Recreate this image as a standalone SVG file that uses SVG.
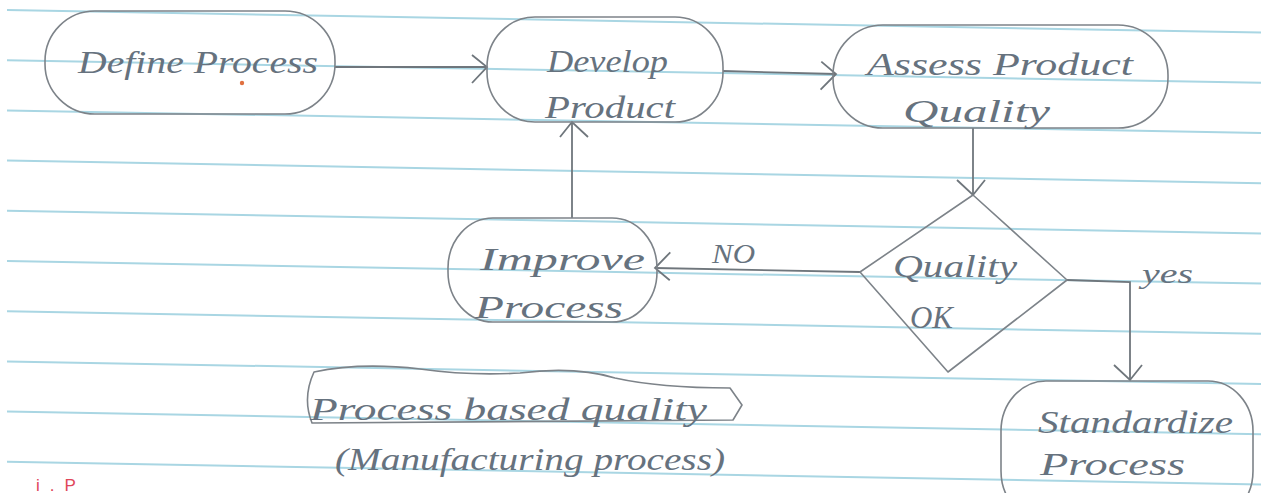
<svg xmlns="http://www.w3.org/2000/svg" width="1261" height="493" viewBox="0 0 1261 493">
<style>
.rule{stroke:#a9d6e3;stroke-width:2;fill:none}
.shape{fill:none;stroke:#7d8389;stroke-width:1.6;stroke-linejoin:round}
.conn{fill:none;stroke:#6f767c;stroke-width:1.8}
.t{font-family:"Liberation Serif",serif;font-style:italic;font-size:32px;fill:#66727e}
.lbl{font-family:"Liberation Serif",serif;font-style:italic;font-size:28px;fill:#66727e}
.red{font-family:"Liberation Sans",sans-serif;font-size:17px;fill:#e0465a}
</style>
<defs>
<marker id="chev" viewBox="-18 -16 20 34" markerWidth="20" markerHeight="34" refX="0" refY="0" orient="auto" markerUnits="userSpaceOnUse">
<path d="M-15,-12 L0,0 L-15,16" fill="none" stroke="#6f767c" stroke-width="1.8"/>
</marker>
</defs>
<rect width="1261" height="493" fill="#ffffff"/>
<g id="paper">
<line class="rule" x1="7" y1="10" x2="1261" y2="32.6"/>
<line class="rule" x1="7" y1="60.2" x2="1261" y2="82.8"/>
<line class="rule" x1="7" y1="110.4" x2="1261" y2="133"/>
<line class="rule" x1="7" y1="160.6" x2="1261" y2="183.2"/>
<line class="rule" x1="7" y1="210.8" x2="1261" y2="233.4"/>
<line class="rule" x1="7" y1="261" x2="1261" y2="283.6"/>
<line class="rule" x1="7" y1="311.2" x2="1261" y2="333.8"/>
<line class="rule" x1="7" y1="361.4" x2="1261" y2="384"/>
<line class="rule" x1="7" y1="411.6" x2="1261" y2="434.2"/>
<line class="rule" x1="7" y1="461.8" x2="1261" y2="484.4"/>
</g>
<g id="connectors">
<path class="conn" d="M335,67 L487,67" marker-end="url(#chev)"/>
<path class="conn" d="M723,71 L836,74" marker-end="url(#chev)"/>
<path class="conn" d="M973,128 L973,195" marker-end="url(#chev)"/>
<path class="conn" d="M860,272 L655,268" marker-end="url(#chev)"/>
<path class="conn" d="M572,218 L572,122" marker-end="url(#chev)"/>
<path class="conn" d="M1067,280 L1130,282 L1130,380" marker-end="url(#chev)"/>
<text class="lbl" x="712" y="263" textLength="43" lengthAdjust="spacingAndGlyphs">NO</text>
<text class="lbl" x="1142" y="283" textLength="51" lengthAdjust="spacingAndGlyphs">yes</text>
</g>
<g id="define-process">
<rect class="shape" x="45" y="11" width="290" height="103" rx="50" ry="50"/>
<text class="t" x="78" y="73" textLength="240" lengthAdjust="spacingAndGlyphs">Define Process</text>
<circle cx="242" cy="83" r="2.2" fill="#e07040"/>
</g>
<g id="develop-product">
<rect class="shape" x="487" y="17" width="236" height="105" rx="48" ry="50"/>
<text class="t" x="547" y="72" textLength="121" lengthAdjust="spacingAndGlyphs">Develop</text>
<text class="t" x="545" y="118" textLength="130" lengthAdjust="spacingAndGlyphs">Product</text>
</g>
<g id="assess-product-quality">
<rect class="shape" x="833" y="25" width="335" height="103" rx="50" ry="50"/>
<text class="t" x="867" y="75" textLength="266" lengthAdjust="spacingAndGlyphs">Assess Product</text>
<text class="t" x="903" y="122" textLength="147" lengthAdjust="spacingAndGlyphs">Quality</text>
</g>
<g id="quality-ok">
<path class="shape" d="M973,195 L1067,280 L948,372 L860,272 Z"/>
<text class="t" x="893" y="277" textLength="124" lengthAdjust="spacingAndGlyphs">Quality</text>
<text class="t" x="910" y="328" textLength="43" lengthAdjust="spacingAndGlyphs">OK</text>
</g>
<g id="improve-process">
<rect class="shape" x="448" y="218" width="209" height="104" rx="45" ry="50"/>
<text class="t" x="480" y="270" textLength="165" lengthAdjust="spacingAndGlyphs">Improve</text>
<text class="t" x="475" y="318" textLength="148" lengthAdjust="spacingAndGlyphs">Process</text>
</g>
<g id="standardize-process">
<rect class="shape" x="1001" y="381" width="252" height="140" rx="45" ry="50"/>
<text class="t" x="1038" y="433" textLength="195" lengthAdjust="spacingAndGlyphs">Standardize</text>
<text class="t" x="1040" y="475" textLength="145" lengthAdjust="spacingAndGlyphs">Process</text>
</g>
<g id="process-based-quality">
<path class="shape" d="M314,372 Q360,362 420,369 Q470,376 520,373 Q575,366 615,378 Q660,388 730,388 L742,405 L733,420 L312,423 Q302,398 314,372 Z"/>
<text class="t" x="310" y="420" textLength="397" lengthAdjust="spacingAndGlyphs">Process based quality</text>
<text class="t" x="335" y="470" textLength="390" lengthAdjust="spacingAndGlyphs">(Manufacturing process)</text>
</g>
<text class="red" x="36" y="491" letter-spacing="10">i.P</text>
</svg>
